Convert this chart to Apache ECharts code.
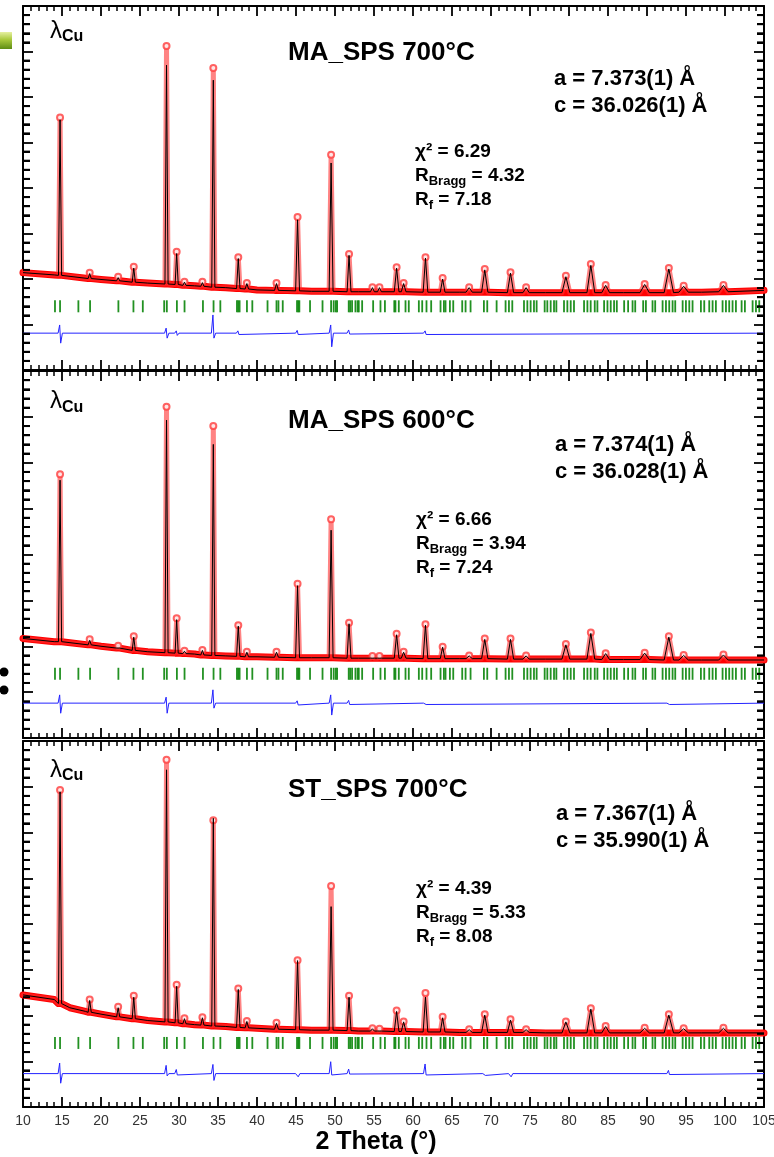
<!DOCTYPE html>
<html>
<head>
<meta charset="utf-8">
<title>Rietveld refinement</title>
<script src="https://cdn.jsdelivr.net/npm/echarts@6/dist/echarts.min.js"></script>
<style>
  html, body { margin: 0; padding: 0; background: #fff; }
  #main { width: 774px; height: 1157px; }
</style>
</head>
<body>
<div id="main"></div>
<script>
(function () {
  var myChart = echarts.init(document.getElementById('main'));

  // peak positions (2 theta, shared by the three patterns) and half width at the base
  var peakPos = [14.75, 18.55, 22.2, 24.2, 28.4, 29.7, 30.7, 33.0, 34.4, 37.6, 38.7, 42.5, 45.2, 49.5, 51.8, 54.8,
    55.7, 57.9, 58.8, 61.6, 63.8, 67.2, 69.2, 72.5, 74.5, 79.6, 82.8, 84.7, 89.7, 92.8, 94.7, 99.8];
  var peakHw = [0.2, 0.2, 0.2, 0.2, 0.2, 0.2, 0.2, 0.2, 0.2, 0.22, 0.22, 0.25, 0.25, 0.25, 0.25, 0.25,
    0.25, 0.3, 0.3, 0.3, 0.3, 0.4, 0.4, 0.4, 0.4, 0.5, 0.5, 0.5, 0.6, 0.6, 0.6, 0.6];

  // Bragg reflection positions (green ticks)
  var bragg = [14.1, 14.75, 17.1, 18.6, 22.23, 24.16, 25.36, 28.1, 28.44, 29.73, 30.71, 33.07, 34.43, 35.3,
    37.43, 37.6, 37.77, 38.71, 39.4, 41.35, 42.5, 42.75, 43.3, 45.13, 45.3, 45.43, 46.8, 48.4, 49.5, 49.83,
    50.1, 50.27, 51.76, 51.95, 52.19, 52.62, 52.9, 53.05, 53.48, 54.89, 55.83, 56.4, 57.6, 57.75, 58.18,
    59.04, 59.46, 60.75, 61.18, 61.73, 62.33, 63.53, 63.96, 64.17, 64.73, 65.16, 66.31, 66.74, 67.38, 69.09,
    69.52, 70.72, 71.87, 72.3, 72.73, 74.23, 74.66, 75.08, 75.51, 75.85, 76.88, 77.22, 77.65, 78.08, 78.38,
    79.36, 79.79, 80.22, 80.64, 81.93, 82.36, 82.78, 83.3, 83.64, 84.5, 84.93, 85.35, 85.78, 86.13, 87.07,
    87.58, 88.15, 88.49, 89.51, 89.86, 90.71, 91.05, 92.0, 92.43, 92.85, 93.28, 93.62, 94.57, 94.99, 95.42,
    95.84, 96.91, 97.34, 97.98, 98.41, 98.83, 99.69, 100.12, 100.54, 100.97, 101.4, 102.13, 102.55, 103.54,
    103.97, 104.39];
  var braggLevel = 14;

  // MA_SPS 700°C
  var bg1 = [[10, 21.4], [14, 20.9], [20, 19.9], [26, 19.1], [32, 18.5], [36, 18.1], [40, 17.6], [47, 17.3],
    [53, 17.2], [66, 17.1], [77, 17.0], [87, 17.0], [97, 17.1], [105, 17.5]];
  var base1 = [20.8, 20.1, 19.6, 19.3, 18.9, 18.8, 18.6, 18.4, 18.2, 17.9, 17.8, 17.5, 17.4, 17.3, 17.2, 17.2,
    17.2, 17.2, 17.2, 17.1, 17.1, 17.1, 17.1, 17.0, 17.0, 17.0, 17.0, 17.0, 17.0, 17.0, 17.1, 17.2];
  var obs1 = [55.5, 21.4, 20.5, 22.7, 71.2, 26.0, 19.4, 19.4, 66.4, 24.8, 19.1, 19.1, 33.6, 47.3, 25.5, 18.2,
    18.2, 22.6, 19.1, 24.8, 20.2, 18.2, 22.2, 21.5, 18.2, 20.7, 23.3, 18.7, 18.9, 22.4, 18.5, 18.7];
  var calc1 = [55.0, 21.2, 20.3, 22.4, 67.0, 25.6, 19.3, 19.2, 63.7, 24.5, 19.0, 19.0, 33.0, 45.5, 25.2, 18.1,
    18.1, 22.4, 19.0, 24.6, 20.0, 18.1, 22.0, 21.3, 18.1, 20.5, 23.0, 18.6, 18.8, 22.2, 18.4, 18.6];
  var diffLevel1 = 8.1;
  var diff1 = [[14.75, 9.9, 5.9], [28.4, 9.2, 7.0], [29.7, 8.6, 7.6], [34.4, 12.1, 7.0], [37.6, 8.6, 7.8],
    [45.2, 8.7, 7.8], [49.5, 9.9, 5.1], [51.8, 8.8, 7.9], [61.6, 8.6, 7.8]];

  // MA_SPS 600°C
  var bg2 = [[10, 21.7], [14, 21.0], [20, 20.0], [26, 18.8], [32, 18.3], [36, 17.9], [40, 17.7], [47, 17.5],
    [53, 17.4], [66, 17.3], [77, 17.2], [87, 17.1], [97, 17.0], [105, 17.0]];
  var base2 = [21.0, 20.3, 19.6, 19.1, 18.6, 18.5, 18.4, 18.1, 18.0, 17.8, 17.7, 17.6, 17.5, 17.5, 17.4, 17.4,
    17.4, 17.4, 17.4, 17.3, 17.3, 17.3, 17.3, 17.2, 17.2, 17.2, 17.2, 17.1, 17.1, 17.0, 17.0, 17.0];
  var obs2 = [57.5, 21.5, 20.1, 22.2, 72.2, 26.1, 19.0, 19.2, 68.0, 24.6, 18.8, 18.8, 33.6, 47.7, 25.1, 17.9,
    17.9, 22.7, 18.8, 24.8, 19.9, 18.0, 21.7, 21.7, 18.0, 20.5, 23.0, 18.5, 18.6, 22.2, 18.1, 18.2];
  var calc2 = [56.2, 21.3, 20.0, 22.0, 69.3, 25.8, 18.9, 19.1, 64.0, 24.4, 18.7, 18.7, 33.2, 45.3, 24.9, 17.8,
    17.8, 22.5, 18.7, 24.6, 19.8, 17.9, 21.5, 21.5, 17.9, 20.3, 22.8, 18.4, 18.5, 22.0, 18.0, 18.1];
  var diffLevel2 = 7.6;
  var diff2 = [[14.75, 9.4, 5.4], [28.4, 8.9, 5.4], [34.4, 10.5, 6.5], [45.2, 8.1, 7.2], [49.5, 9.4, 5.0],
    [51.8, 8.2, 7.3], [61.6, 8.0, 7.3], [92.8, 8.0, 7.3]];

  // ST_SPS 700°C
  var bg3 = [[10, 24.5], [14, 23.5], [16, 21.7], [18, 20.9], [20, 20.3], [26, 18.9], [32, 18.0], [36, 17.6],
    [40, 17.2], [47, 16.8], [53, 16.6], [66, 16.3], [77, 16.2], [87, 16.2], [97, 16.2], [105, 16.2]];
  var base3 = [22.6, 20.7, 19.7, 19.3, 18.6, 18.4, 18.2, 17.9, 17.7, 17.4, 17.3, 17.0, 16.9, 16.8, 16.7, 16.6,
    16.6, 16.5, 16.5, 16.4, 16.4, 16.3, 16.3, 16.3, 16.3, 16.2, 16.2, 16.2, 16.2, 16.2, 16.2, 16.2];
  var obs3 = [69.3, 23.5, 21.9, 24.3, 75.9, 26.7, 19.4, 19.6, 62.7, 25.9, 18.8, 18.4, 32.1, 48.3, 24.3, 17.2,
    17.1, 21.1, 18.7, 24.9, 19.7, 17.0, 20.3, 19.2, 17.0, 18.7, 21.6, 17.7, 17.3, 20.3, 17.2, 17.3];
  var calc3 = [68.9, 23.3, 21.7, 24.0, 73.7, 26.4, 19.3, 19.5, 63.1, 25.7, 18.7, 18.3, 32.0, 43.8, 24.0, 17.1,
    17.0, 20.9, 18.6, 24.0, 19.5, 16.9, 20.1, 19.0, 16.9, 18.6, 21.4, 17.6, 17.2, 20.1, 17.1, 17.2];
  var diffLevel3 = 7.3;
  var diff3 = [[14.75, 9.6, 5.2], [28.4, 9.1, 6.8], [29.7, 8.2, 7.0], [34.4, 9.3, 5.8], [45.2, 7.3, 6.6],
    [49.5, 9.9, 7.0], [51.8, 8.3, 7.2], [61.6, 9.4, 7.0], [69.2, 7.6, 6.9], [72.5, 7.6, 6.6], [92.8, 8.0, 7.1]];

  var titles = ['MA_SPS 700°C', 'MA_SPS 600°C', 'ST_SPS 700°C'];
  var latticeA = ['7.373(1)', '7.374(1)', '7.367(1)'];
  var latticeC = ['36.026(1)', '36.028(1)', '35.990(1)'];
  var chi2 = ['6.29', '6.66', '4.39'];
  var rBragg = ['4.32', '3.94', '5.33'];
  var rF = ['7.18', '7.24', '8.08'];
  var xTicks = [10, 105, 5];      // min, max, major step
  var yTicks = [0, 80, 10, 2];    // min, max, major step, minor step

  var panels = [
    {bg: bg1, base: base1, obs: obs1, calc: calc1, dl: diffLevel1, diff: diff1},
    {bg: bg2, base: base2, obs: obs2, calc: calc2, dl: diffLevel2, diff: diff2},
    {bg: bg3, base: base3, obs: obs3, calc: calc3, dl: diffLevel3, diff: diff3}
  ];

  // layout of the three stacked frames
  var gridTop = [6, 371, 741];
  var gridHeight = [364, 367, 366];
  var lambdaY = [17, 387.5, 756];
  var titleY = [53, 421, 790];
  var latY = [65.5, 431, 800];
  var latX = [554, 555, 556];
  var statY = [139.5, 507.5, 876.5];

  var FONT = '"Liberation Sans", Arial, sans-serif';

  function byX(a, b) { return a[0] - b[0]; }

  function profile(bg, base, top) {
    var pts = bg.slice();
    for (var i = 0; i < peakPos.length; i++) {
      pts.push([peakPos[i] - peakHw[i], base[i]]);
      pts.push([peakPos[i], top[i]]);
      pts.push([peakPos[i] + peakHw[i], base[i]]);
    }
    return pts.sort(byX);
  }

  function diffLine(level, spikes) {
    var pts = [[xTicks[0], level], [xTicks[1], level]];
    spikes.forEach(function (s) {
      pts.push([s[0] - 0.25, level], [s[0] - 0.05, s[1]], [s[0] + 0.08, s[2]], [s[0] + 0.3, level]);
    });
    return pts.sort(byX);
  }

  function axisFor(type, i, pos) {
    var t = type === 'x' ? xTicks : yTicks;
    return {
      type: 'value', gridIndex: i, position: pos,
      min: t[0], max: t[1], interval: t[2],
      axisLine: {show: true, onZero: false, lineStyle: {color: '#000', width: 2}},
      axisTick: {show: true, inside: true, length: 10, lineStyle: {color: '#000', width: 1.8}},
      minorTick: {show: true, splitNumber: 5, length: type === 'y' ? 7 : 5,
        lineStyle: {color: '#000', width: type === 'y' ? 2 : 1.5}},
      splitLine: {show: false},
      axisLabel: {
        show: type === 'x' && pos === 'bottom' && i === 2, margin: 7,
        fontFamily: FONT, fontSize: 14, color: '#333'
      }
    };
  }

  var grids = [], xAxes = [], yAxes = [], series = [], graphics = [];

  panels.forEach(function (p, i) {
    grids.push({left: 23, right: 10, top: gridTop[i], height: gridHeight[i],
      containLabel: false, outerBoundsMode: 'none'});
    xAxes.push(axisFor('x', i, 'bottom'), axisFor('x', i, 'top'));
    yAxes.push(axisFor('y', i, 'left'), axisFor('y', i, 'right'));
    var xi = 2 * i, yi = 2 * i;

    series.push({
      name: 'Yobs band', type: 'line', xAxisIndex: xi, yAxisIndex: yi,
      data: profile(p.bg, p.base, p.base), symbol: 'none', silent: true, z: 2,
      lineStyle: {color: '#ff0000', width: 7, join: 'round', cap: 'round'}
    });
    series.push({
      name: 'Yobs', type: 'line', xAxisIndex: xi, yAxisIndex: yi,
      data: profile(p.bg, p.base, p.obs), symbol: 'none', silent: true, z: 2,
      lineStyle: {color: '#ff3030', width: 5, opacity: 0.6, join: 'round', cap: 'round'}
    });
    series.push({
      name: 'Yobs points', type: 'scatter', xAxisIndex: xi, yAxisIndex: yi,
      data: peakPos.map(function (x, k) { return [x, p.obs[k]]; }),
      symbol: 'emptyCircle', symbolSize: 6, silent: true, z: 3,
      itemStyle: {color: '#ff3b3b', borderColor: '#ff3b3b', borderWidth: 1}
    });
    series.push({
      name: 'Ycalc', type: 'line', xAxisIndex: xi, yAxisIndex: yi,
      data: profile(p.bg, p.base, p.calc), symbol: 'none', silent: true, z: 4,
      lineStyle: {color: '#000', width: 1}
    });
    series.push({
      name: 'Bragg', type: 'scatter', xAxisIndex: xi, yAxisIndex: yi,
      data: bragg.map(function (x) { return [x, braggLevel]; }),
      symbol: 'rect', symbolSize: [1.8, 12], silent: true, z: 4,
      itemStyle: {color: '#0a850a', opacity: 0.9}
    });
    series.push({
      name: 'Yobs-Ycalc', type: 'line', xAxisIndex: xi, yAxisIndex: yi,
      data: diffLine(p.dl, p.diff), symbol: 'none', silent: true, z: 4,
      lineStyle: {color: '#2323ff', width: 1}
    });

    graphics.push({
      type: 'text', x: 50, y: lambdaY[i],
      style: {
        text: '{l|λ}{s|Cu}', textVerticalAlign: 'top', fill: '#000',
        rich: {
          l: {fontFamily: FONT, fontSize: 24, lineHeight: 28, fill: '#000'},
          s: {fontFamily: FONT, fontSize: 16, fontWeight: 'bold', lineHeight: 16, verticalAlign: 'bottom', fill: '#000'}
        }
      }
    });
    graphics.push({
      type: 'text', x: 288, y: titleY[i],
      style: {text: titles[i], fontFamily: FONT, fontSize: 26, fontWeight: 'bold', fill: '#000',
        textVerticalAlign: 'middle'}
    });
    graphics.push({
      type: 'text', x: latX[i], y: latY[i],
      style: {
        text: '{m|a = ' + latticeA[i] + ' Å}\n{m|c = ' + latticeC[i] + ' Å}',
        textVerticalAlign: 'top', fill: '#000',
        rich: {m: {fontFamily: FONT, fontSize: 22, fontWeight: 'bold', lineHeight: 27, fill: '#000'}}
      }
    });
    graphics.push({
      type: 'text', x: i === 0 ? 415 : 416, y: statY[i],
      style: {
        text: '{m|χ² = ' + chi2[i] + '}\n{m|R}{s|Bragg}{m| = ' + rBragg[i] + '}\n{m|R}{s|f}{m| = ' + rF[i] + '}',
        textVerticalAlign: 'top', fill: '#000',
        rich: {
          m: {fontFamily: FONT, fontSize: 19, fontWeight: 'bold', lineHeight: 24, fill: '#000'},
          s: {fontFamily: FONT, fontSize: 13, fontWeight: 'bold', lineHeight: 18, verticalAlign: 'bottom', fill: '#000'}
        }
      }
    });
  });

  graphics.push({
    type: 'text', x: 376, y: 1142,
    style: {text: '2 Theta (°)', fontFamily: FONT, fontSize: 25, fontWeight: 'bold', fill: '#000',
      textAlign: 'center', textVerticalAlign: 'middle'}
  });
  // slide leftovers at the left edge
  graphics.push({
    type: 'rect', shape: {x: 0, y: 32, width: 12, height: 17},
    style: {fill: new echarts.graphic.LinearGradient(0, 0, 0, 1, [
      {offset: 0, color: '#e6f0a0'}, {offset: 0.45, color: '#a9c93c'}, {offset: 1, color: '#5e8c14'}])}
  });
  graphics.push({type: 'circle', shape: {cx: 4, cy: 672, r: 4.5}, style: {fill: '#000'}});
  graphics.push({type: 'circle', shape: {cx: 4, cy: 690, r: 4.5}, style: {fill: '#000'}});

  var option = {
    animation: false,
    backgroundColor: '#fff',
    grid: grids,
    xAxis: xAxes,
    yAxis: yAxes,
    series: series,
    graphic: graphics
  };
  myChart.setOption(option);

  // minor ticks on the left/right frames, placed with the chart's own y scales
  var minorTicks = [];
  panels.forEach(function (p, i) {
    for (var v = yTicks[0] + yTicks[3]; v < yTicks[1]; v += yTicks[3]) {
      if (v % yTicks[2] === 0) continue;
      var l = myChart.convertToPixel({gridIndex: i}, [xTicks[0], v]);
      var r = myChart.convertToPixel({gridIndex: i}, [xTicks[1], v]);
      if (!l || !r) continue;
      minorTicks.push({type: 'line', silent: true, z: 100,
        shape: {x1: l[0], y1: l[1], x2: l[0] + 7, y2: l[1]},
        style: {stroke: '#000', lineWidth: 2}});
      minorTicks.push({type: 'line', silent: true, z: 100,
        shape: {x1: r[0] - 7, y1: r[1], x2: r[0], y2: r[1]},
        style: {stroke: '#000', lineWidth: 2}});
    }
  });
  myChart.setOption({graphic: graphics.concat(minorTicks)});

  window.addEventListener('resize', function () {
    myChart.resize();
  });
})();
</script>
</body>
</html>
